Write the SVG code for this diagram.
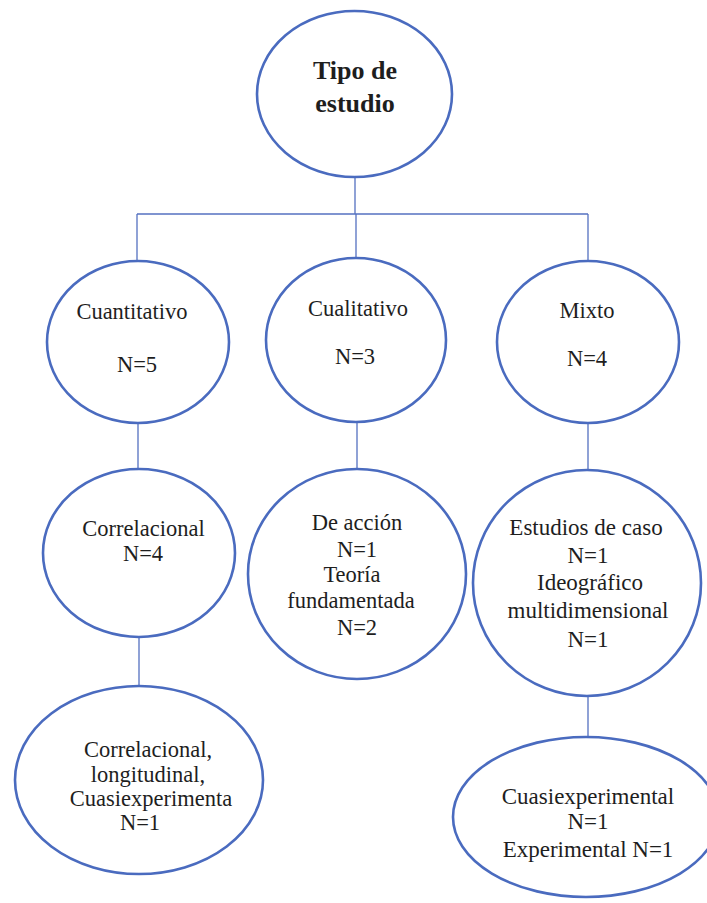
<svg xmlns="http://www.w3.org/2000/svg" width="707" height="903" viewBox="0 0 707 903">
<style>
.n{fill:#ffffff;stroke:#4a6bbf;stroke-width:2.6}
.c{fill:none;stroke:#5470c0;stroke-width:1.3}
text{font-family:"Liberation Serif","Times New Roman",serif;fill:#1e1e1e;text-anchor:middle;font-size:22.5px}
.b{font-weight:bold;font-size:26px}
.r{font-size:23px}
</style>
<rect width="707" height="903" fill="#ffffff"/>
<g id="connectors">
<line class="c" x1="355" y1="177" x2="355" y2="214"/>
<line class="c" x1="137" y1="214" x2="588" y2="214"/>
<line class="c" x1="137" y1="214" x2="137" y2="261"/>
<line class="c" x1="356" y1="214" x2="356" y2="258"/>
<line class="c" x1="588" y1="214" x2="588" y2="262"/>
<line class="c" x1="138" y1="423" x2="138" y2="469"/>
<line class="c" x1="357" y1="421" x2="357" y2="469"/>
<line class="c" x1="588" y1="423" x2="588" y2="470"/>
<line class="c" x1="139" y1="637" x2="139" y2="686"/>
<line class="c" x1="588" y1="696" x2="588" y2="737"/>
</g>
<g id="tipo">
<ellipse class="n" cx="354.5" cy="94" rx="97.5" ry="83"/>
<text class="b" x="355" y="79">Tipo de</text>
<text class="b" x="355" y="112">estudio</text>
</g>
<g id="cuantitativo">
<ellipse class="n" cx="138" cy="342" rx="91" ry="81"/>
<text x="132" y="319">Cuantitativo</text>
<text x="137" y="372">N=5</text>
</g>
<g id="cualitativo">
<ellipse class="n" cx="356" cy="340" rx="90" ry="82"/>
<text x="358" y="316">Cualitativo</text>
<text x="355" y="364">N=3</text>
</g>
<g id="mixto">
<ellipse class="n" cx="588" cy="342" rx="91" ry="81"/>
<text x="587" y="318">Mixto</text>
<text x="587" y="366">N=4</text>
</g>
<g id="correlacional">
<ellipse class="n" cx="139" cy="553" rx="96" ry="84"/>
<text x="143.5" y="536">Correlacional</text>
<text x="143" y="561">N=4</text>
</g>
<g id="accion">
<ellipse class="n" cx="357" cy="574" rx="109" ry="105"/>
<text x="357" y="530">De acción</text>
<text x="357" y="557">N=1</text>
<text x="352" y="582">Teoría</text>
<text x="351" y="608">fundamentada</text>
<text x="357" y="635">N=2</text>
</g>
<g id="estudios">
<ellipse class="n" cx="587" cy="583" rx="114" ry="113"/>
<text class="r" x="586" y="535">Estudios de caso</text>
<text class="r" x="588" y="563">N=1</text>
<text class="r" x="590" y="590">Ideográfico</text>
<text class="r" x="588" y="618">multidimensional</text>
<text class="r" x="588" y="647">N=1</text>
</g>
<g id="longitudinal">
<ellipse class="n" cx="139" cy="780" rx="124" ry="94"/>
<text x="148" y="757">Correlacional,</text>
<text x="148" y="782">longitudinal,</text>
<text x="151" y="806">Cuasiexperimenta</text>
<text x="140" y="830">N=1</text>
</g>
<g id="cuasiexperimental">
<ellipse class="n" cx="586" cy="817" rx="133" ry="80"/>
<text class="r" x="588" y="804">Cuasiexperimental</text>
<text class="r" x="588" y="829">N=1</text>
<text class="r" x="588" y="857">Experimental N=1</text>
</g>
</svg>
